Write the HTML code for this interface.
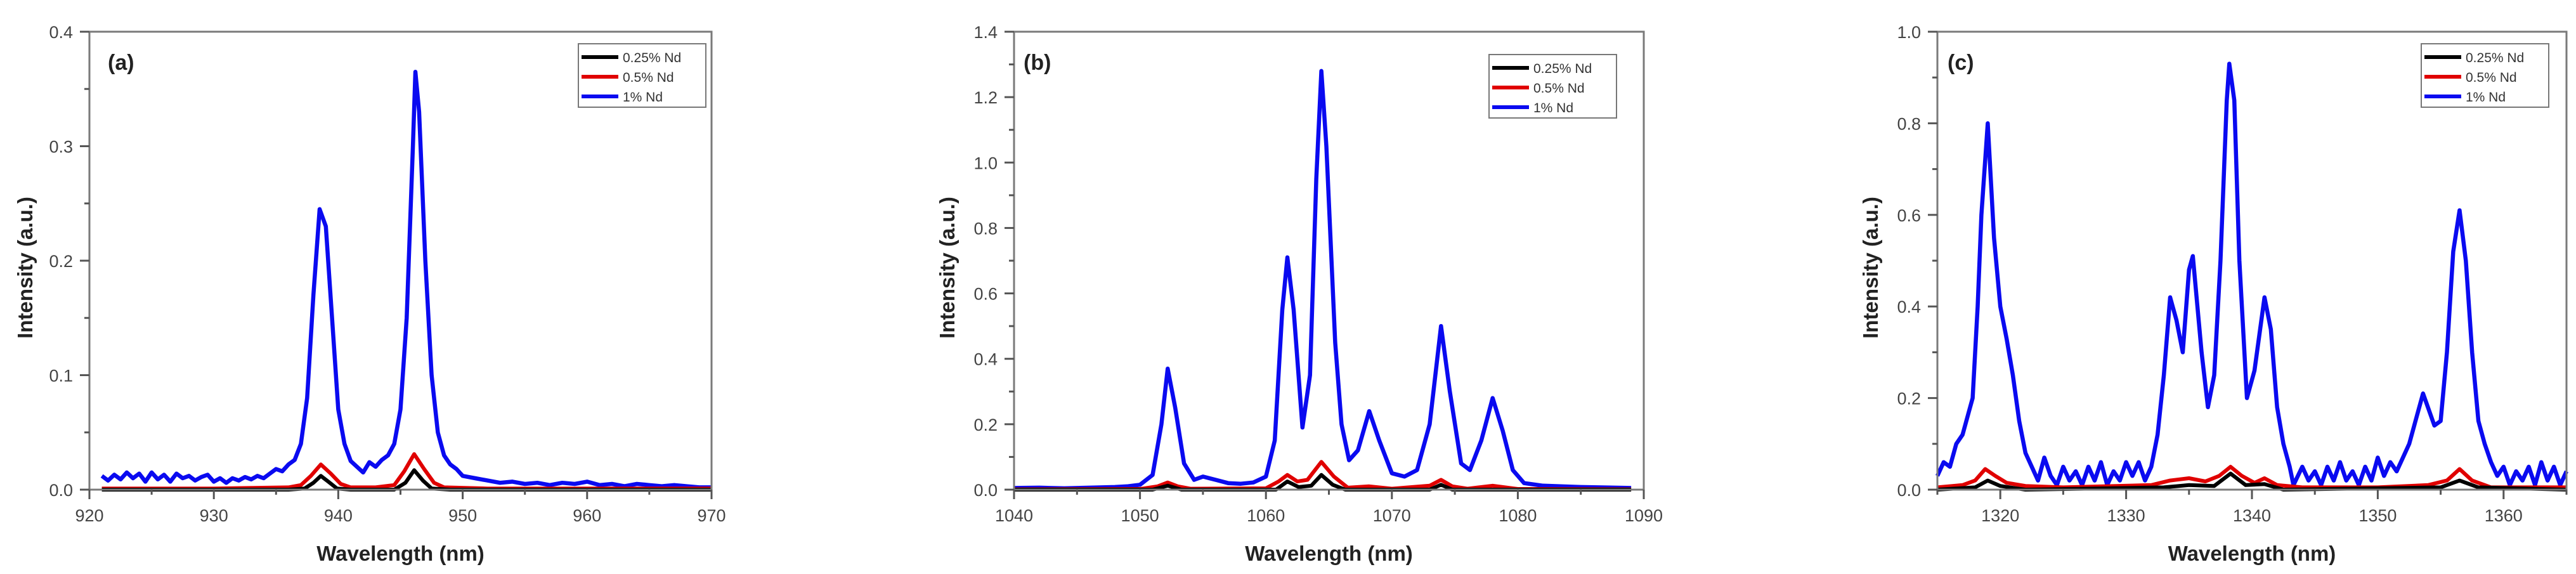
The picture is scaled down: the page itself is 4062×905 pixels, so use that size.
<!DOCTYPE html>
<html><head><meta charset="utf-8">
<style>
html,body{margin:0;padding:0;background:#fff;}
svg{display:block;}
text{font-family:"Liberation Sans",Arial,sans-serif;}
</style></head>
<body>
<svg id="fig" width="4062" height="905" viewBox="0 0 4062 905" xmlns="http://www.w3.org/2000/svg"></svg>
<script>
// ---------- Panel (a) data ----------
const aBlueX = [921,921.5,922,922.5,923,923.5,924,924.5,925,925.5,926,926.5,927,927.5,928,928.5,929,929.5,930,930.5,931,931.5,932,932.5,933,933.5,934,934.5,935,935.5,936,936.5,937,937.5,938,938.5,939,939.5,940,940.5,941,941.5,942,942.5,943,943.5,944,944.5,945,945.5,946,946.2,946.5,947,947.5,948,948.5,949,949.5,950,951,952,953,954,955,956,957,958,959,960,961,962,963,964,965,966,967,968,969,970];
const aBlueY = [0.012,0.008,0.013,0.009,0.015,0.010,0.014,0.007,0.015,0.009,0.013,0.007,0.014,0.010,0.012,0.008,0.011,0.013,0.007,0.010,0.006,0.010,0.008,0.011,0.009,0.012,0.010,0.014,0.018,0.016,0.022,0.026,0.040,0.080,0.170,0.245,0.230,0.150,0.070,0.040,0.025,0.020,0.015,0.024,0.020,0.026,0.030,0.040,0.070,0.150,0.300,0.365,0.330,0.200,0.100,0.050,0.030,0.022,0.018,0.012,0.010,0.008,0.006,0.007,0.005,0.006,0.004,0.006,0.005,0.007,0.004,0.005,0.003,0.005,0.004,0.003,0.004,0.003,0.002,0.002];
const aRedX = [921,930,936,937,937.8,938.6,939.4,940.2,941,943,944.5,945.3,946.1,946.9,947.7,948.5,952,960,970];
const aRedY = [0.001,0.001,0.002,0.004,0.012,0.022,0.014,0.005,0.002,0.002,0.004,0.016,0.031,0.018,0.006,0.002,0.001,0.001,0.001];
const aBlackX = [921,936,937.3,938,938.6,939.2,939.9,941,944.5,945.4,946.1,946.8,947.5,949,970];
const aBlackY = [0.0,0.0,0.001,0.006,0.012,0.007,0.001,0.0,0.0,0.006,0.017,0.008,0.001,0.0,0.0];
// ---------- Panel (b) data ----------
const bBlueX = [1040,1042,1044,1046,1048,1049,1050,1051,1051.7,1052.2,1052.8,1053.5,1054.3,1055,1056,1057,1058,1059,1060,1060.7,1061.3,1061.7,1062.2,1062.9,1063.5,1064,1064.4,1064.8,1065.5,1066,1066.6,1067.3,1068.2,1069,1070,1071,1072,1073,1073.9,1074.6,1075.5,1076.2,1077.1,1078,1078.8,1079.6,1080.5,1082,1085,1089];
const bBlueY = [0.005,0.006,0.004,0.006,0.008,0.010,0.015,0.045,0.200,0.370,0.250,0.080,0.030,0.040,0.030,0.020,0.018,0.022,0.040,0.150,0.550,0.710,0.550,0.190,0.350,0.950,1.280,1.050,0.450,0.200,0.090,0.120,0.240,0.150,0.050,0.040,0.060,0.200,0.500,0.300,0.080,0.060,0.150,0.280,0.180,0.060,0.020,0.012,0.008,0.005];
const bRedX = [1040,1050,1051.4,1052.2,1053,1054,1060,1061,1061.7,1062.5,1063.3,1064.4,1065.4,1066.5,1068.2,1070,1073,1073.9,1074.8,1076,1078,1080,1089];
const bRedY = [0.001,0.002,0.010,0.022,0.010,0.003,0.004,0.025,0.045,0.025,0.030,0.085,0.040,0.006,0.010,0.003,0.012,0.030,0.010,0.003,0.012,0.002,0.001];
const bBlackX = [1040,1051,1052.2,1053.3,1060.8,1061.7,1062.6,1063.6,1064.4,1065.3,1066.3,1073,1073.9,1074.8,1089];
const bBlackY = [0.0,0.0,0.012,0.0,0.0,0.025,0.008,0.012,0.045,0.015,0.0,0.0,0.015,0.0,0.0];
// ---------- Panel (c) data ----------
const cBlueX = [1315,1315.5,1316,1316.5,1317,1317.5,1317.8,1318.2,1318.5,1319,1319.5,1320,1320.5,1321,1321.5,1322,1322.5,1323,1323.5,1324,1324.5,1325,1325.5,1326,1326.5,1327,1327.5,1328,1328.5,1329,1329.5,1330,1330.5,1331,1331.5,1332,1332.5,1333,1333.5,1334,1334.5,1335,1335.3,1336,1336.5,1337,1337.5,1338,1338.2,1338.6,1339,1339.6,1340.2,1341,1341.5,1342,1342.5,1343,1343.3,1344,1344.5,1345,1345.5,1346,1346.5,1347,1347.5,1348,1348.5,1349,1349.5,1350,1350.5,1351,1351.5,1352,1352.5,1353,1353.6,1354.5,1355,1355.5,1356,1356.5,1357,1357.5,1358,1358.5,1359,1359.5,1360,1360.5,1361,1361.5,1362,1362.5,1363,1363.5,1364,1364.5,1365];
const cBlueY = [0.03,0.06,0.05,0.10,0.12,0.17,0.20,0.40,0.60,0.80,0.55,0.40,0.33,0.25,0.15,0.08,0.05,0.02,0.07,0.03,0.01,0.05,0.02,0.04,0.01,0.05,0.02,0.06,0.01,0.04,0.02,0.06,0.03,0.06,0.02,0.05,0.12,0.25,0.42,0.37,0.30,0.48,0.51,0.30,0.18,0.25,0.50,0.85,0.93,0.85,0.50,0.20,0.26,0.42,0.35,0.18,0.10,0.05,0.01,0.05,0.02,0.04,0.01,0.05,0.02,0.06,0.02,0.04,0.01,0.05,0.02,0.07,0.03,0.06,0.04,0.07,0.10,0.15,0.21,0.14,0.15,0.30,0.52,0.61,0.50,0.30,0.15,0.10,0.06,0.03,0.05,0.01,0.04,0.02,0.05,0.01,0.06,0.02,0.05,0.01,0.04];
const cRedX = [1315,1317,1318,1318.8,1319.6,1320.5,1322,1325,1332,1333.5,1335,1336.3,1337.4,1338.3,1339.2,1340.2,1341,1342,1344,1350,1354,1355.5,1356.5,1357.5,1359,1365];
const cRedY = [0.005,0.010,0.020,0.045,0.030,0.015,0.008,0.005,0.010,0.020,0.025,0.018,0.030,0.050,0.030,0.015,0.025,0.010,0.005,0.005,0.010,0.020,0.045,0.020,0.005,0.005];
const cBlackX = [1315,1318,1319,1320,1322,1333,1335,1337,1338.3,1339.5,1341,1342.5,1355,1356.5,1358,1365];
const cBlackY = [0.0,0.005,0.020,0.008,0.0,0.005,0.010,0.008,0.035,0.010,0.012,0.0,0.005,0.020,0.005,0.0];

const panels = [
  {id:'a', label:'(a)', left:141, right:1122, xMin:920, xMax:970, yMax:0.4, yStep:0.1, ytitleX:39, labelX:170,
   legend:{x:912,y:69}, series:[[aBlackX,aBlackY],[aRedX,aRedY],[aBlueX,aBlueY]]},
  {id:'b', label:'(b)', left:1599, right:2592, xMin:1040, xMax:1090, yMax:1.4, yStep:0.2, ytitleX:1493, labelX:1614,
   legend:{x:2348,y:86}, series:[[bBlackX,bBlackY],[bRedX,bRedY],[bBlueX,bBlueY]]},
  {id:'c', label:'(c)', left:3055, right:4047, xMin:1315, xMax:1365, yMax:1.0, yStep:0.2, ytitleX:2949, labelX:3071,
   legend:{x:3818,y:69}, series:[[cBlackX,cBlackY],[cRedX,cRedY],[cBlueX,cBlueY]]}
];
const seriesNames = ['0.25% Nd','0.5% Nd','1% Nd'];
const seriesColors = ['#000000','#e00000','#0a0af0'];
const seriesKeys = ['black','red','blue'];
const TOP = 50, BOTTOM = 772;
const NS = 'http://www.w3.org/2000/svg';
const svg = document.getElementById('fig');
function el(tag, attrs, parent){
  const e = document.createElementNS(NS, tag);
  for (const k in attrs) e.setAttribute(k, attrs[k]);
  (parent||svg).appendChild(e);
  return e;
}
panels.forEach(p => {
  const g = el('g', {});
  
  
  const sx = v => p.left + (v - p.xMin) / (p.xMax - p.xMin) * (p.right - p.left);
  const sy = v => BOTTOM - v / p.yMax * (BOTTOM - TOP);
  [2,1,0].forEach(i => {
    const [xs, ys] = p.series[i];
    let d = '';
    xs.forEach((x, j) => { d += (j ? 'L' : 'M') + sx(x).toFixed(1) + ',' + sy(ys[j]).toFixed(1); });
    const path = el('path', {d:d, fill:'none', stroke:seriesColors[i], 'stroke-width': i===2?6.5:6, 'stroke-linejoin':'round'}, g);
    
    
  });
  const frame = el('rect', {x:p.left, y:TOP, width:p.right-p.left, height:BOTTOM-TOP, fill:'none', stroke:'#7a7a7a', 'stroke-width':3}, g);
  
  
  for (let v = p.xMin; v <= p.xMax + 1e-9; v += 5) {
    const major = Math.round(v) % 10 === 0;
    el('line', {x1:sx(v), x2:sx(v), y1:BOTTOM, y2:BOTTOM + (major?15:8), stroke:'#555', 'stroke-width':3}, g);
    if (major) {
      const t = el('text', {x:sx(v), y:822, 'text-anchor':'middle', 'font-size':27, fill:'#444'}, g);
      t.textContent = v;
      
      
    }
  }
  const n = Math.round(p.yMax / p.yStep);
  for (let k = 0; k <= 2*n; k++) {
    const v = k * p.yStep / 2;
    const major = k % 2 === 0;
    el('line', {x1:p.left - (major?15:8), x2:p.left, y1:sy(v), y2:sy(v), stroke:'#555', 'stroke-width':3}, g);
    if (major) {
      const t = el('text', {x:p.left - 26, y:sy(v) + 10, 'text-anchor':'end', 'font-size':27, fill:'#444'}, g);
      t.textContent = v.toFixed(1);
      
      
    }
  }
  const xt = el('text', {x:(p.left+p.right)/2, y:884, 'text-anchor':'middle', 'font-size':33, 'font-weight':'bold', fill:'#222'}, g);
  xt.textContent = 'Wavelength (nm)';
  
  
  const yt = el('text', {x:0, y:0, 'text-anchor':'middle', 'font-size':33, 'font-weight':'bold', fill:'#222', transform:'translate(' + (p.ytitleX+12) + ',422) rotate(-90)'}, g);
  yt.textContent = 'Intensity (a.u.)';
  
  
  const pl = el('text', {x:p.labelX, y:110, 'font-size':34, 'font-weight':'bold', 'font-family':'Liberation Serif, serif', fill:'#222'}, g);
  pl.textContent = p.label;
  
  
  const lg = el('g', {}, g);
  
  
  el('rect', {x:p.legend.x, y:p.legend.y, width:201, height:100, fill:'#fff', stroke:'#777', 'stroke-width':2}, lg);
  seriesNames.forEach((name, i) => {
    const yy = p.legend.y + 21 + i*31;
    const ln = el('line', {x1:p.legend.x+5, x2:p.legend.x+63, y1:yy, y2:yy, stroke:seriesColors[i], 'stroke-width':6}, lg);
    
    
    const t = el('text', {x:p.legend.x+70, y:yy+8, 'font-size':21, fill:'#333'}, lg);
    t.textContent = name;
    
    
  });
});
</script>
</body></html>
